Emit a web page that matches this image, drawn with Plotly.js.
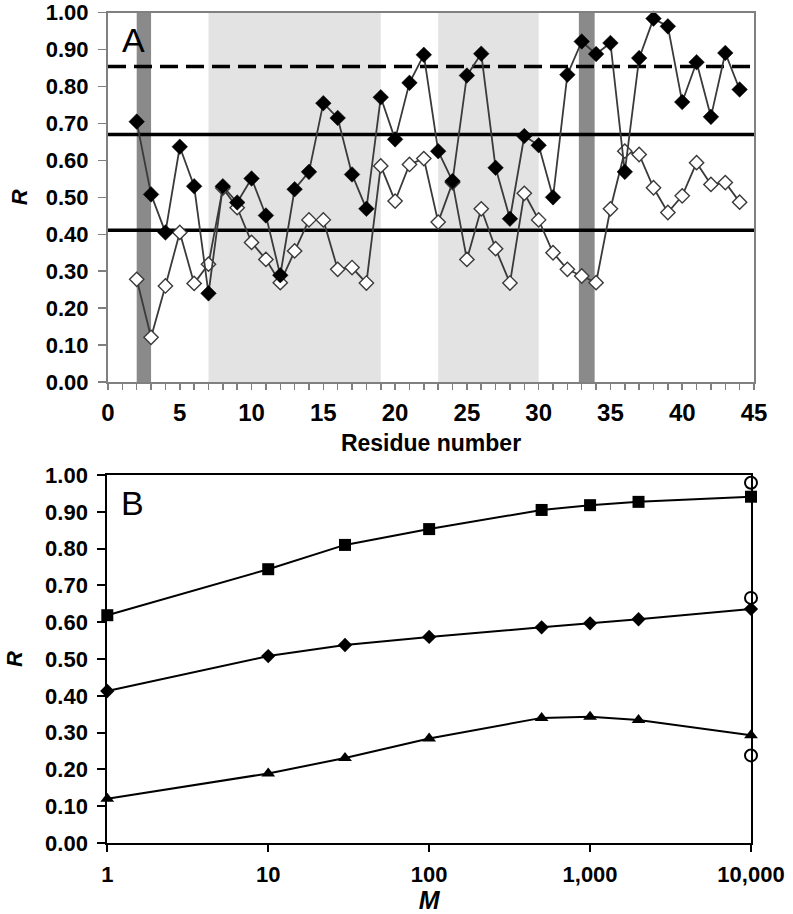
<!DOCTYPE html>
<html>
<head>
<meta charset="utf-8">
<script src="https://cdn.plot.ly/plotly-3.0.1.min.js"></script>
<style>html,body{margin:0;padding:0;background:#fff;}#chart{width:793px;height:914px;}</style>
</head>
<body>
<div id="chart"></div>
<script>
// ---------- Panel A data ----------
const residues = [2,3,4,5,6,7,8,9,10,11,12,13,14,15,16,17,18,19,20,21,22,23,24,25,26,27,28,29,30,31,32,33,34,35,36,37,38,39,40,41,42,43,44];
const rFilled = [0.705,0.508,0.405,0.637,0.530,0.240,0.530,0.486,0.551,0.451,0.289,0.522,0.569,0.755,0.715,0.562,0.469,0.771,0.657,0.810,0.886,0.625,0.544,0.830,0.889,0.580,0.442,0.666,0.641,0.500,0.832,0.922,0.888,0.918,0.569,0.877,0.984,0.963,0.758,0.866,0.718,0.891,0.792];
const rOpen = [0.278,0.121,0.260,0.405,0.267,0.319,0.525,0.472,0.378,0.332,0.269,0.355,0.439,0.439,0.305,0.310,0.268,0.585,0.490,0.589,0.605,0.433,0.540,0.332,0.469,0.361,0.268,0.511,0.439,0.350,0.305,0.287,0.269,0.469,0.625,0.616,0.526,0.459,0.504,0.594,0.535,0.540,0.487];
const darkBands = [[2,3],[32.8,33.9]];
const lightBands = [[7,19],[23,30]];
const dashedLevel = 0.854;
const solidLevels = [0.670, 0.411];
const xTickValsA = [0,1,2,3,4,5,6,7,8,9,10,11,12,13,14,15,16,17,18,19,20,21,22,23,24,25,26,27,28,29,30,31,32,33,34,35,36,37,38,39,40,41,42,43,44,45];
const xTickTextA = xTickValsA.map(v => (v % 5 === 0 ? String(v) : ''));
const yTickVals = [0,0.1,0.2,0.3,0.4,0.5,0.6,0.7,0.8,0.9,1.0];
const yTickText = ['0.00','0.10','0.20','0.30','0.40','0.50','0.60','0.70','0.80','0.90','1.00'];

// ---------- Panel B data ----------
const M = [1,10,30,100,500,1000,2000,10000];
const rSquare = [0.619,0.744,0.810,0.853,0.905,0.918,0.927,0.941];
const rDiamond = [0.413,0.508,0.538,0.560,0.586,0.597,0.608,0.636];
const rTriangle = [0.120,0.189,0.231,0.284,0.340,0.343,0.334,0.293];
const mCircle = [10000,10000,10000];
const rCircle = [0.979,0.666,0.238];
const xTickValsB = [1,10,100,1000,10000];
const xTickTextB = ['1','10','100','1,000','10,000'];

const FONT = 'Liberation Sans, Arial, sans-serif';
const GRAY = '#808080';

const traces = [
  {x: residues, y: rOpen, xaxis:'x', yaxis:'y', mode:'lines+markers', cliponaxis:false,
   line:{color:'#3a3a3a', width:1.8},
   marker:{symbol:'diamond', size:11, color:'#ffffff', line:{color:'#3a3a3a', width:1.4}}},
  {x: residues, y: rFilled, xaxis:'x', yaxis:'y', mode:'lines+markers', cliponaxis:false,
   line:{color:'#3a3a3a', width:1.8},
   marker:{symbol:'diamond', size:12, color:'#000000', line:{color:'#000000', width:0.5}}},
  {x: M, y: rSquare, xaxis:'x2', yaxis:'y2', mode:'lines+markers', cliponaxis:false,
   line:{color:'#000', width:2}, marker:{symbol:'square', size:12, color:'#000'}},
  {x: M, y: rDiamond, xaxis:'x2', yaxis:'y2', mode:'lines+markers', cliponaxis:false,
   line:{color:'#000', width:2}, marker:{symbol:'diamond', size:11, color:'#000'}},
  {x: M, y: rTriangle, xaxis:'x2', yaxis:'y2', mode:'lines+markers', cliponaxis:false,
   line:{color:'#000', width:2}, marker:{symbol:'triangle-up', size:12, color:'#000'}},
  {x: mCircle, y: rCircle, xaxis:'x2', yaxis:'y2', mode:'markers', cliponaxis:false,
   marker:{symbol:'circle', size:12, color:'#fff', line:{color:'#000', width:2}}}
];

const shapes = [];
lightBands.forEach(b => shapes.push({type:'rect', xref:'x', yref:'y', x0:b[0], x1:b[1], y0:0, y1:1,
  fillcolor:'#e3e3e3', line:{width:0}, layer:'below'}));
darkBands.forEach(b => shapes.push({type:'rect', xref:'x', yref:'y', x0:b[0], x1:b[1], y0:0, y1:1,
  fillcolor:'#8a8a8a', line:{width:0}, layer:'below'}));
shapes.push({type:'line', xref:'x', yref:'y', x0:0, x1:45, y0:dashedLevel, y1:dashedLevel,
  line:{color:'#000', width:3.5, dash:'18px,8px'}, layer:'below'});
solidLevels.forEach(v => shapes.push({type:'line', xref:'x', yref:'y', x0:0, x1:45, y0:v, y1:v,
  line:{color:'#000', width:3.5}, layer:'below'}));

const layout = {
  width:793, height:914, showlegend:false,
  margin:{l:0, r:0, t:0, b:0},
  paper_bgcolor:'#fff', plot_bgcolor:'rgba(0,0,0,0)',
  font:{family:FONT, color:'#000'},
  xaxis:{domain:[108/793, 754/793], range:[0,45], anchor:'y',
    tickmode:'array', tickvals:xTickValsA, ticktext:xTickTextA,
    ticks:'outside', ticklen:6, tickwidth:1.5, tickcolor:GRAY, ticklabelstandoff:2,
    showline:true, linecolor:GRAY, linewidth:2, mirror:true, showgrid:false, zeroline:false,
    tickfont:{family:FONT, size:24, color:'#000', weight:'bold'},
    title:{text:'<b>Residue number</b>', font:{family:FONT, size:23, color:'#000'}, standoff:10}},
  yaxis:{domain:[1-382/914, 1-12.7/914], range:[0,1], anchor:'x',
    tickmode:'array', tickvals:yTickVals, ticktext:yTickText,
    ticks:'outside', ticklen:8, tickwidth:1.5, tickcolor:GRAY, ticklabelstandoff:5,
    showline:true, linecolor:GRAY, linewidth:2, mirror:true, showgrid:false, zeroline:false,
    tickfont:{family:FONT, size:22, color:'#000', weight:'bold'},
    title:{text:'<b><i>R</i></b>', font:{family:FONT, size:22, color:'#000'}, standoff:12}},
  xaxis2:{domain:[107.3/793, 751/793], type:'log', range:[0,4], anchor:'y2',
    tickmode:'array', tickvals:xTickValsB, ticktext:xTickTextB,
    ticks:'outside', ticklen:7, tickwidth:2, tickcolor:'#000', ticklabelstandoff:4,
    showline:true, linecolor:'#000', linewidth:2, mirror:true, showgrid:false, zeroline:false,
    tickfont:{family:FONT, size:22, color:'#000', weight:'bold'},
    title:{text:'<b><i>M</i></b>', font:{family:FONT, size:25, color:'#000'}, standoff:4}},
  yaxis2:{domain:[1-843/914, 1-475/914], range:[0,1], anchor:'x2',
    tickmode:'array', tickvals:yTickVals, ticktext:yTickText,
    ticks:'outside', ticklen:8, tickwidth:2, tickcolor:'#000', ticklabelstandoff:5,
    showline:true, linecolor:'#000', linewidth:2, mirror:true, showgrid:false, zeroline:false,
    tickfont:{family:FONT, size:22, color:'#000', weight:'bold'},
    title:{text:'<b><i>R</i></b>', font:{family:FONT, size:22, color:'#000'}, standoff:16}},
  shapes: shapes,
  annotations:[
    {text:'A', xref:'paper', yref:'paper', x:120/793, y:1-40/914, xanchor:'left', yanchor:'middle',
     showarrow:false, font:{family:FONT, size:34, color:'#000'}},
    {text:'B', xref:'paper', yref:'paper', x:119/793, y:1-503/914, xanchor:'left', yanchor:'middle',
     showarrow:false, font:{family:FONT, size:34, color:'#000'}}
  ]
};

Plotly.newPlot('chart', traces, layout, {staticPlot:true, displayModeBar:false});
</script>
</body>
</html>
